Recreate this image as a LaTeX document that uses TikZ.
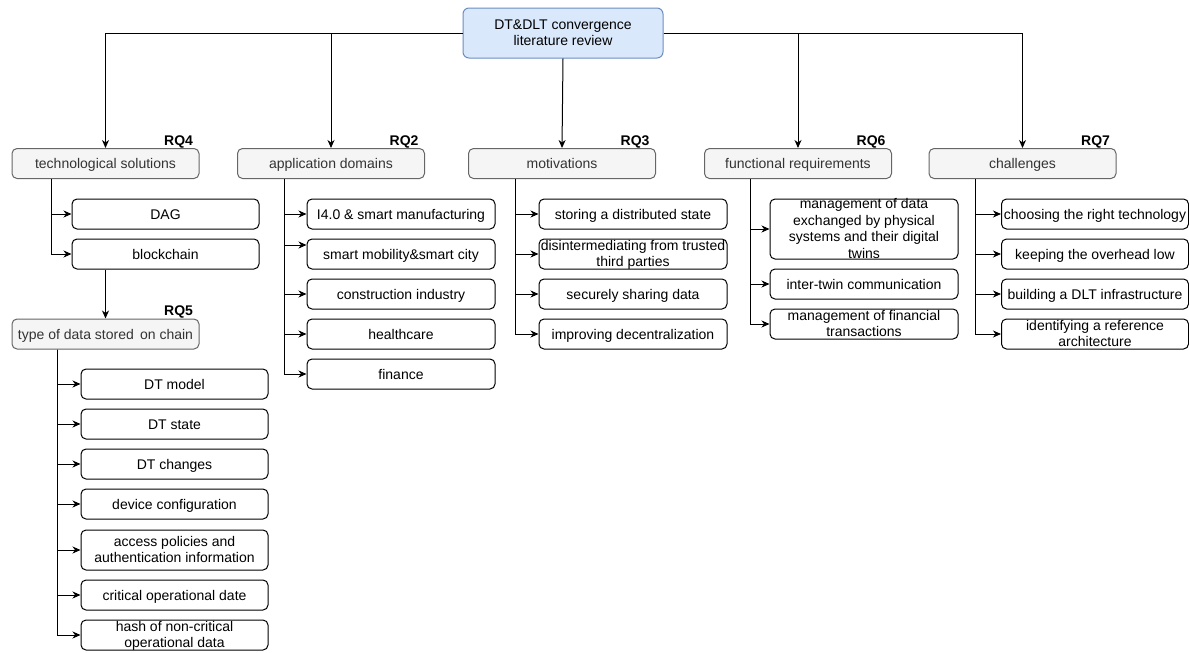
\documentclass[tikz,border=0pt]{standalone}
\usepackage{fontspec}
\setmainfont{Liberation Sans}
\usetikzlibrary{arrows.meta}

\definecolor{rootfill}{HTML}{DAE8FC}
\definecolor{rootline}{HTML}{6C8EBF}
\definecolor{catfill}{HTML}{F5F5F5}
\definecolor{catline}{HTML}{666666}
\definecolor{cattext}{HTML}{333333}

% multi-line text that does not change the size of its box
\newcommand\ml[1]{\smash{\begin{tabular}{@{}c@{}}#1\end{tabular}}}

\tikzset{
  txt/.style={font=\fontsize{14}{16.5}\selectfont, align=center, inner sep=0pt,
              text height=13pt, text depth=3pt},
  rootbox/.style={txt, draw=rootline, fill=rootfill, rounded corners=6pt,
                  minimum width=200pt, minimum height=50pt},
  catbox/.style={txt, draw=catline, fill=catfill, text=cattext, rounded corners=5pt,
                 minimum width=187pt, minimum height=30pt},
  itembox/.style={txt, draw=black, fill=white, rounded corners=5pt,
                  minimum width=187pt, minimum height=30pt},
  rq/.style={font=\fontsize{14}{16}\selectfont\bfseries, inner sep=0pt, anchor=base east},
  arr/.style={-{Stealth[length=8pt,width=7pt,inset=2.5pt]}, line width=1pt, black},
  link/.style={line width=1pt, black}
}

\begin{document}
\begin{tikzpicture}[x=1pt, y=-1pt, line width=1pt]
\useasboundingbox (0,0) rectangle (1189,653);

% root
\node[rootbox] (root) at (563,33) {\ml{DT\&DLT convergence\\literature review}};

% research-question categories
\node[catbox] (tech) at (105.5,163.5) {technological solutions};
\node[catbox] (app)  at (331,163.5)   {application domains};
\node[catbox] (mot)  at (562,163.5)   {motivations};
\node[catbox] (func) at (798,163.5)   {functional requirements};
\node[catbox] (chal) at (1022.5,163.5){challenges};
\node[catbox] (type) at (105.5,334)   {type of data stored\, on chain};

\node[rq] (rq4) at ([xshift=-6pt,yshift=3pt]tech.north east) {RQ4};
\node[rq] (rq2) at ([xshift=-6pt,yshift=3pt]app.north east)  {RQ2};
\node[rq] (rq3) at ([xshift=-6pt,yshift=3pt]mot.north east)  {RQ3};
\node[rq] (rq6) at ([xshift=-6pt,yshift=3pt]func.north east) {RQ6};
\node[rq] (rq7) at ([xshift=-6pt,yshift=3pt]chal.north east) {RQ7};
\node[rq] (rq5) at ([xshift=-6pt,yshift=3pt]type.north east) {RQ5};

% technological solutions
\node[itembox] (dag)   at (165.5,214) {DAG};
\node[itembox] (chain) at (165.5,254) {blockchain};

% type of data stored on chain
\node[itembox] (d1) at (174.5,384) {DT model};
\node[itembox] (d2) at (174.5,424) {DT state};
\node[itembox] (d3) at (174.5,464) {DT changes};
\node[itembox] (d4) at (174.5,504) {device configuration};
\node[itembox, minimum height=40pt] (d5) at (174.5,550) {\ml{access policies and\\authentication information}};
\node[itembox] (d6) at (174.5,595) {critical operational date};
\node[itembox] (d7) at (174.5,635) {\ml{hash of non-critical\\operational data}};

% application domains
\node[itembox, minimum width=188pt] (a1) at (401,214) {I4.0 \& smart manufacturing};
\node[itembox, minimum width=188pt] (a2) at (401,254) {smart mobility\&smart city};
\node[itembox, minimum width=188pt] (a3) at (401,294) {construction industry};
\node[itembox, minimum width=188pt] (a4) at (401,334) {healthcare};
\node[itembox, minimum width=188pt] (a5) at (401,374) {finance};

% motivations
\node[itembox, minimum width=188pt] (m1) at (633,214) {storing a distributed state};
\node[itembox, minimum width=188pt] (m2) at (633,254) {\ml{disintermediating from trusted\\third parties}};
\node[itembox, minimum width=188pt] (m3) at (633,294) {securely sharing data};
\node[itembox, minimum width=188pt] (m4) at (633,334) {improving decentralization};

% functional requirements
\node[itembox, minimum width=188pt, minimum height=60pt] (f1) at (864,229)
  {\ml{management of data\\exchanged by physical\\systems and their digital\\twins}};
\node[itembox, minimum width=188pt] (f2) at (864,284) {inter-twin communication};
\node[itembox, minimum width=188pt] (f3) at (864,324) {\ml{management of financial\\transactions}};

% challenges
\node[itembox] (c1) at (1095,214) {choosing the right technology};
\node[itembox] (c2) at (1095,254) {keeping the overhead low};
\node[itembox] (c3) at (1095,294) {building a DLT infrastructure};
\node[itembox] (c4) at (1095,334) {\ml{identifying a reference\\architecture}};

% root to categories
\draw[arr] (root.west) -| (tech.north);
\draw[arr] (root.west) -| (app.north);
\draw[arr] (root.south) -- (mot.north);
\draw[arr] (root.east) -| (func.north);
\draw[arr] (root.east) -| (chal.north);

% blockchain to type of data
\draw[arr] (chain.south -| type.north) -- (type.north);

% category branches
\foreach \c in {dag,chain} \draw[arr] ([xshift=40pt]tech.south west) |- (\c.west);
\foreach \c in {d1,d2,d3,d4,d5,d6,d7} \draw[arr] ([xshift=46pt]type.south west) |- (\c.west);
\foreach \c in {a1,a3,a4,a5} \draw[arr] ([xshift=47pt]app.south west) |- (\c.west);
\draw[arr] ([xshift=47pt]app.south west) |- ([yshift=9pt]a2.west);
\foreach \c in {m1,m2,m3,m4} \draw[arr] ([xshift=47pt]mot.south west) |- (\c.west);
\foreach \c in {f1,f2,f3} \draw[arr] ([xshift=46pt]func.south west) |- (\c.west);
\foreach \c in {c1,c2,c3,c4} \draw[arr] ([xshift=47pt]chal.south west) |- (\c.west);
\end{tikzpicture}
\end{document}
